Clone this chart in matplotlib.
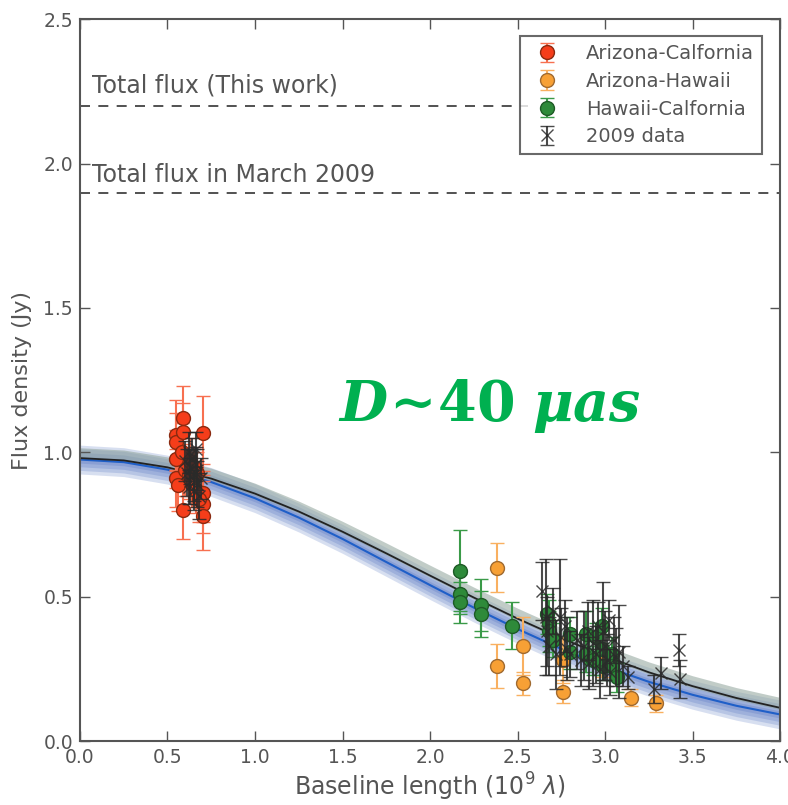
import numpy as np
import matplotlib

matplotlib.use("Agg")
import matplotlib.pyplot as plt

# Arizona-California baselines: (baseline, flux, error)
az_ca_x = [0.55, 0.55, 0.55, 0.55, 0.56, 0.59, 0.59, 0.59, 0.60, 0.62, 0.63, 0.64,
           0.65, 0.66, 0.67, 0.70, 0.70, 0.70, 0.70, 0.68, 0.58]
az_ca_y = [1.06, 1.035, 0.976, 0.91, 0.886, 1.12, 1.07, 0.80, 0.94, 0.92, 0.97, 0.89,
           0.95, 0.87, 0.93, 1.066, 0.86, 0.82, 0.78, 0.84, 1.00]
az_ca_e = [0.12, 0.10, 0.10, 0.10, 0.09, 0.11, 0.10, 0.10, 0.09, 0.08, 0.08, 0.08,
           0.07, 0.08, 0.07, 0.13, 0.10, 0.10, 0.12, 0.08, 0.10]

# Arizona-Hawaii
az_hi_x = [2.38, 2.38, 2.53, 2.53, 2.76, 2.76, 2.98, 3.15, 3.29]
az_hi_y = [0.60, 0.26, 0.33, 0.20, 0.28, 0.17, 0.27, 0.15, 0.13]
az_hi_e = [0.085, 0.075, 0.10, 0.04, 0.08, 0.04, 0.05, 0.03, 0.03]

# Hawaii-California
hi_ca_x = [2.17, 2.17, 2.17, 2.29, 2.29, 2.47, 2.67, 2.68, 2.68, 2.70, 2.80, 2.80,
           2.89, 2.89, 2.95, 2.98, 2.98, 2.99, 3.04, 3.04, 3.07, 2.93]
hi_ca_y = [0.59, 0.51, 0.48, 0.47, 0.44, 0.40, 0.44, 0.41, 0.38, 0.35, 0.37, 0.31,
           0.37, 0.30, 0.36, 0.40, 0.32, 0.26, 0.30, 0.26, 0.22, 0.28]
hi_ca_e = [0.14, 0.07, 0.07, 0.09, 0.08, 0.08, 0.07, 0.08, 0.07, 0.06, 0.06, 0.06,
           0.08, 0.06, 0.05, 0.06, 0.05, 0.05, 0.06, 0.05, 0.05, 0.05]

# 2009 data
old_x = [0.60, 0.61, 0.62, 0.63, 0.63, 0.64, 0.65, 0.65, 0.66, 0.67, 0.67, 0.68,
         0.69, 0.62, 0.66,
         2.64, 2.66, 2.67, 2.68, 2.70, 2.72, 2.74, 2.75, 2.77, 2.78, 2.80, 2.84,
         2.86, 2.88, 2.90, 2.91, 2.93, 2.95, 2.96, 2.97, 2.99, 3.00, 3.01, 3.02,
         3.03, 3.05, 3.06, 3.08, 3.10, 3.13, 3.28, 3.32, 3.42, 3.43]
old_y = [0.97, 0.93, 1.00, 0.95, 0.90, 0.98, 0.92, 0.87, 0.96, 0.89, 0.94, 0.85,
         0.91, 0.88, 1.01,
         0.52, 0.43, 0.38, 0.33, 0.45, 0.30, 0.43, 0.36, 0.40, 0.32, 0.30, 0.35,
         0.28, 0.33, 0.38, 0.27, 0.34, 0.30, 0.40, 0.25, 0.38, 0.33, 0.28, 0.42,
         0.24, 0.35, 0.29, 0.31, 0.26, 0.22, 0.18, 0.235, 0.315, 0.215]
old_e = [0.07, 0.08, 0.07, 0.06, 0.08, 0.07, 0.09, 0.07, 0.06, 0.08, 0.07, 0.08,
         0.07, 0.06, 0.06,
         0.10, 0.20, 0.12, 0.10, 0.08, 0.12, 0.20, 0.10, 0.09, 0.11, 0.08, 0.10,
         0.09, 0.12, 0.10, 0.09, 0.15, 0.10, 0.08, 0.10, 0.17, 0.12, 0.09, 0.07,
         0.08, 0.08, 0.10, 0.16, 0.07, 0.04, 0.05, 0.055, 0.055, 0.065]

# model curves
model_x = [0.0, 0.25, 0.5, 0.75, 1.0, 1.25, 1.5, 1.75, 2.0, 2.25, 2.5, 2.75,
           3.0, 3.25, 3.5, 3.75, 4.0]
model_2009 = [0.98, 0.972, 0.948, 0.909, 0.857, 0.795, 0.725, 0.650, 0.573, 0.497,
              0.424, 0.356, 0.294, 0.238, 0.190, 0.149, 0.115]
model_now = [0.975, 0.966, 0.940, 0.897, 0.841, 0.774, 0.700, 0.620, 0.540, 0.462,
             0.388, 0.319, 0.258, 0.205, 0.160, 0.122, 0.092]
band_now = 0.05
band_2009 = 0.02

total_now = 2.2
total_2009 = 1.9

txt = '#555555'
plt.rcParams['font.family'] = ['DejaVu Sans']
plt.rcParams['xtick.direction'] = 'in'
plt.rcParams['ytick.direction'] = 'in'

fig = plt.figure(figsize=(7.88, 8.05), dpi=100)
ax = fig.add_axes([0.1015, 0.0795, 0.8885, 0.8965])

mx = np.array(model_x)
m9 = np.array(model_2009)
mn = np.array(model_now)

# blue band, layered
for f in [1.0, 0.75, 0.5, 0.25]:
    ax.fill_between(mx, mn - band_now * f, mn + band_now * f,
                    color='#3a5fb8', alpha=0.2, lw=0)
ax.fill_between(mx, m9 - band_2009 * 0.3, m9 + band_2009 * 1.8,
                color='#8fa39a', alpha=0.55, lw=0)
ax.plot(mx, mn, color='#1f5fc8', lw=1.5)
ax.plot(mx, m9, color='#222222', lw=1.3)

ax.axhline(total_now, xmax=0.64, ls='--', color='#333333', lw=1.2, dashes=(6, 5))
ax.axhline(total_2009, ls='--', color='#333333', lw=1.2, dashes=(6, 5))
ax.text(0.07, 2.245, 'Total flux (This work)', fontsize=17, color=txt)
ax.text(0.07, 1.935, 'Total flux in March 2009', fontsize=17, color=txt)

ax.errorbar(old_x, old_y, yerr=old_e, fmt='x', color='#2a2a2a', ms=8, mew=1.0,
            elinewidth=1.5, capsize=5, alpha=0.85, label='2009 data', zorder=3)
ax.errorbar(az_ca_x, az_ca_y, yerr=az_ca_e, fmt='o', color='#f53d1a', mec='#8a2a10',
            ms=10, elinewidth=1.5, capsize=5, ecolor='#f77050', label='Arizona-Calfornia', zorder=2)
ax.errorbar(az_hi_x, az_hi_y, yerr=az_hi_e, fmt='o', color='#f7a035', mec='#a06a30',
            ms=10, elinewidth=1.5, capsize=5, ecolor='#f9b060', label='Arizona-Hawaii', zorder=2)
ax.errorbar(hi_ca_x, hi_ca_y, yerr=hi_ca_e, fmt='o', color='#2e8a3a', mec='#1e5a26',
            ms=10, elinewidth=1.5, capsize=5, ecolor='#3a9a48', label='Hawaii-Calfornia', zorder=2)

h, l = ax.get_legend_handles_labels()
order = [1, 2, 3, 0]
leg = ax.legend([h[i] for i in order], [l[i] for i in order], loc='upper right',
                numpoints=1, fontsize=14, fancybox=False, borderpad=0.4,
                handletextpad=1.0, labelspacing=0.45, bbox_to_anchor=(0.988, 0.99))
leg.get_frame().set_edgecolor('#444444')
leg.get_frame().set_linewidth(1.5)
for t in leg.get_texts():
    t.set_color(txt)

ax.text(2.34, 1.16, r'$\mathbfit{D}\!\mathbf{\sim}\!\mathbf{40}\ \mathbfit{\mu as}$',
        fontsize=40, color='#00b050', ha='center', va='center',
        math_fontfamily='dejavuserif')

ax.set_xlim(0, 4.0)
ax.set_ylim(0, 2.5)
ax.set_xticks(np.arange(0, 4.01, 0.5))
ax.set_yticks(np.arange(0, 2.51, 0.5))
ax.xaxis.set_major_formatter(matplotlib.ticker.FormatStrFormatter('%.1f'))
ax.yaxis.set_major_formatter(matplotlib.ticker.FormatStrFormatter('%.1f'))
ax.tick_params(top=True, right=True, length=7, width=1, labelsize=13.5,
               labelcolor=txt, color='#555555')
ax.tick_params(axis='x', pad=5)
ax.tick_params(axis='y', pad=5)
ax.set_xlabel(r'Baseline length ($10^9\ \lambda$)', fontsize=17, color=txt, labelpad=3)
ax.set_ylabel('Flux density (Jy)', fontsize=16, color=txt, labelpad=8)
for s in ax.spines.values():
    s.set_color('#555555')
    s.set_linewidth(1.5)

fig.savefig('out.png', dpi=100)
